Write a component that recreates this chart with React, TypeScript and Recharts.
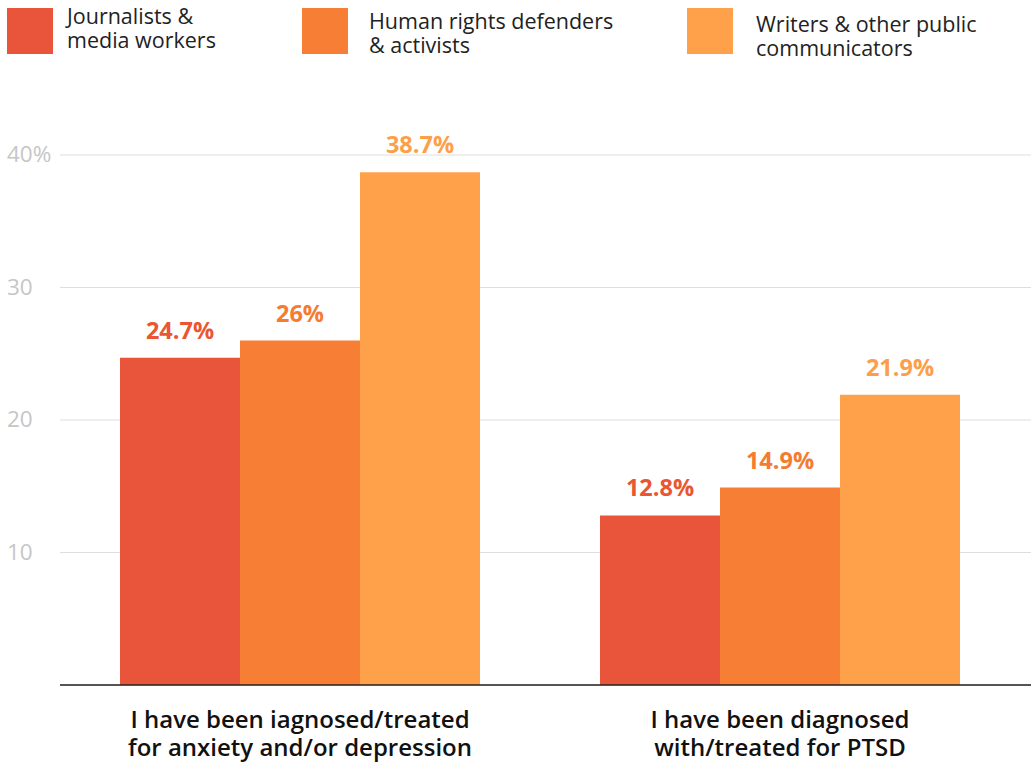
import { BarChart, Bar, XAxis, YAxis, CartesianGrid, LabelList } from "recharts";

const categories = [
  "I have been iagnosed/treated\nfor anxiety and/or depression",
  "I have been diagnosed\nwith/treated for PTSD",
];
const seriesNames = [
  "Journalists &\nmedia workers",
  "Human rights defenders\n& activists",
  "Writers & other public\ncommunicators",
];
const journalists = [24.7, 12.8];
const defenders = [26, 14.9];
const writers = [38.7, 21.9];
const yTicks = [10, 20, 30, 40];

const colors = ["#e8553a", "#f77f35", "#ffa04b"];
const labelColors = ["#ea5631", "#f57b30", "#fd9e48"];
const keys = ["journalists", "defenders", "writers"];

const data = categories.map((c, i) => ({
  name: c,
  journalists: journalists[i],
  defenders: defenders[i],
  writers: writers[i],
}));

const font = "'Open Sans', sans-serif";

function XTick({ x, y, payload }: any) {
  const lines = String(payload.value).split("\n");
  return (
    <text x={x} y={y} textAnchor="middle" fontFamily={font} fontWeight={600} fontSize={24} fill="#111">
      {lines.map((l, i) => (
        <tspan key={i} x={x} dy={i === 0 ? 35 : 28}>
          {l}
        </tspan>
      ))}
    </text>
  );
}

function YTick({ y, payload }: any) {
  return (
    <text x={7} y={y} dy={7} textAnchor="start" fontFamily={font} fontSize={22.5} fill="#c6c6c6">
      {payload.value === 40 ? "40%" : payload.value}
    </text>
  );
}

const legendPos = [
  { sq: 7, tx: 67, ty: 4 },
  { sq: 302, tx: 369, ty: 9 },
  { sq: 687, tx: 756, ty: 12 },
];

export default function App() {
  return (
    <div style={{ position: "absolute", left: 0, top: 0, width: 1031, height: 763, fontFamily: font }}>
      {seriesNames.map((n, i) => (
        <div key={n}>
          <div
            style={{
              position: "absolute",
              left: legendPos[i].sq,
              top: 8,
              width: 46,
              height: 46,
              background: colors[i],
            }}
          />
          <div
            style={{
              position: "absolute",
              left: legendPos[i].tx,
              top: legendPos[i].ty,
              fontSize: 21.5,
              lineHeight: "24px",
              color: "#222",
              whiteSpace: "pre",
            }}
          >
            {n}
          </div>
        </div>
      ))}
      <BarChart
        width={1031}
        height={763}
        data={data}
        margin={{ top: 155, right: 0, bottom: 0, left: 0 }}
        barGap={0}
        barCategoryGap={60}
      >
        <CartesianGrid vertical={false} stroke="#dedede" />
        <YAxis
          width={60}
          domain={[0, 40]}
          ticks={yTicks}
          axisLine={false}
          tickLine={false}
          tick={<YTick />}
        />
        <XAxis
          dataKey="name"
          height={78}
          padding={{ left: 0, right: 11 }}
          tickLine={false}
          axisLine={{ stroke: "#222", strokeWidth: 1.5 }}
          tick={<XTick />}
          interval={0}
        />
        {keys.map((k, i) => (
          <Bar key={k} dataKey={k} fill={colors[i]} isAnimationActive={false}>
            <LabelList
              dataKey={k}
              position="top"
              offset={19}
              formatter={(v: any) => `${v}%`}
              fill={labelColors[i]}
              fontFamily={font}
              fontWeight={700}
              fontSize={23.5}
            />
          </Bar>
        ))}
      </BarChart>
    </div>
  );
}
